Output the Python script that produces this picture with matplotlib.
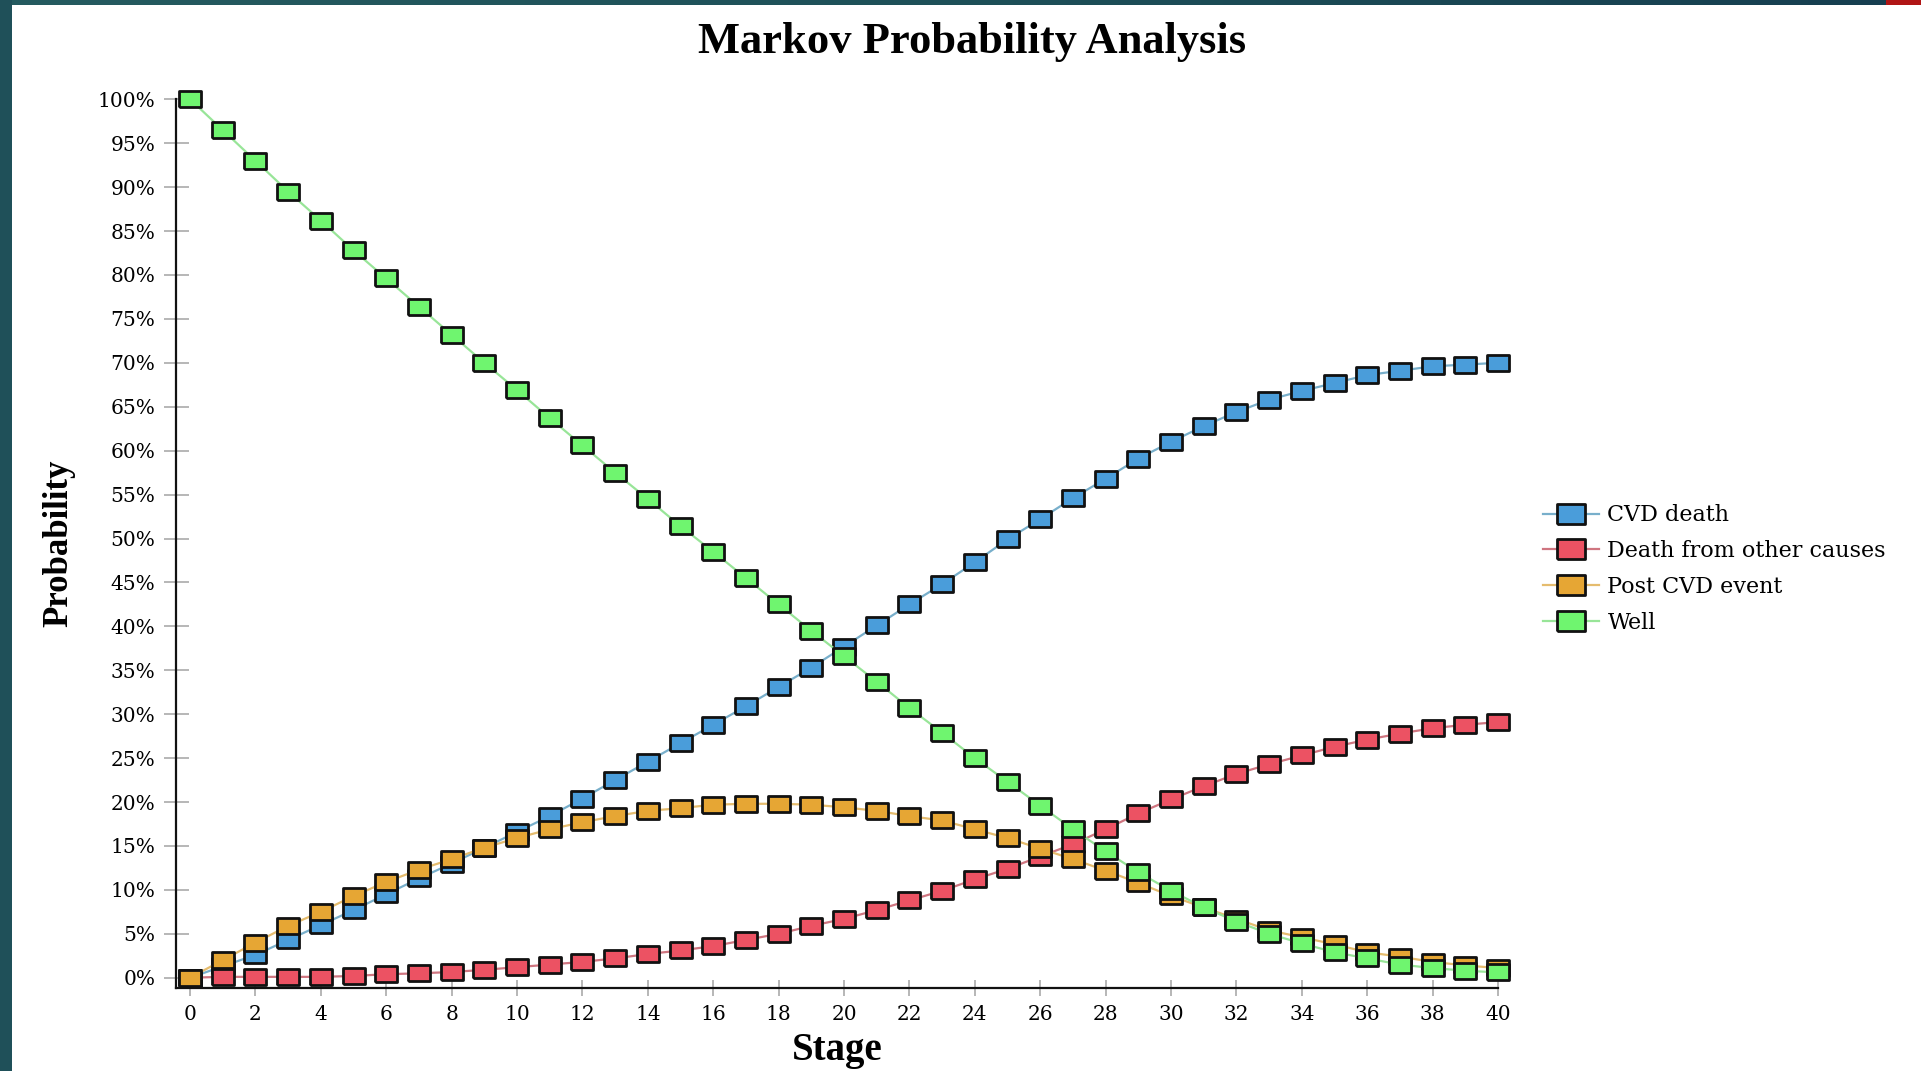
import numpy as np
import matplotlib
matplotlib.use('Agg')
import matplotlib.pyplot as plt
from matplotlib.patches import Rectangle
from matplotlib.colors import LinearSegmentedColormap
from matplotlib.ticker import PercentFormatter

plt.rcParams['font.family'] = ['Liberation Serif', 'DejaVu Serif']

# 数据（从图上读取，单位 %）
stages = list(range(41))
cvd_death = [0, 1.3, 2.6, 4.3, 6.0, 7.7, 9.5, 11.3, 13.0, 14.8, 16.6, 18.4, 20.4, 22.5, 24.6,
             26.7, 28.8, 30.9, 33.1, 35.3, 37.7, 40.1, 42.5, 44.8, 47.3, 49.9, 52.2, 54.6,
             56.8, 59.1, 61.0, 62.8, 64.4, 65.8, 66.8, 67.7, 68.6, 69.1, 69.6, 69.8, 70.0]
other_death = [0, 0.1, 0.1, 0.1, 0.1, 0.2, 0.4, 0.5, 0.65, 0.9, 1.2, 1.5, 1.8, 2.2, 2.7,
               3.1, 3.6, 4.3, 5.0, 5.9, 6.7, 7.7, 8.8, 9.9, 11.2, 12.4, 13.8, 15.2, 16.9,
               18.7, 20.3, 21.8, 23.2, 24.3, 25.3, 26.3, 27.1, 27.8, 28.4, 28.8, 29.1]
post_cvd = [0, 2.0, 4.0, 5.9, 7.5, 9.3, 10.9, 12.3, 13.5, 14.8, 15.9, 16.9, 17.7, 18.4, 19.0,
            19.3, 19.7, 19.8, 19.8, 19.7, 19.4, 19.0, 18.4, 17.9, 16.9, 15.9, 14.7, 13.5,
            12.2, 10.8, 9.3, 8.0, 6.7, 5.4, 4.6, 3.8, 2.9, 2.4, 1.8, 1.4, 1.1]
well = [100, 96.5, 93.0, 89.5, 86.2, 82.8, 79.6, 76.4, 73.2, 70.0, 66.9, 63.7, 60.6, 57.5,
        54.5, 51.4, 48.5, 45.5, 42.5, 39.5, 36.6, 33.7, 30.7, 27.9, 25.0, 22.3, 19.6, 16.9,
        14.4, 12.0, 9.9, 8.0, 6.4, 5.0, 3.9, 2.9, 2.2, 1.5, 1.1, 0.8, 0.6]

series_names = ['CVD death', 'Death from other causes', 'Post CVD event', 'Well']
fill_colors = ['#4A9DDA', '#EC5263', '#E6A634', '#6FF56F']
line_colors = ['#78AFCB', '#CF7580', '#E5BC6E', '#98E598']

# 长方形标记（宽 > 高）
rect_marker = [(-1, -0.68), (1, -0.68), (1, 0.68), (-1, 0.68), (-1, -0.68)]
wide_font = ['DejaVu Serif']

W, H = 1921, 1071
fig = plt.figure(figsize=(W / 100, H / 100), dpi=100)
fig.patch.set_facecolor('white')

# 背景装饰：左侧和顶部深色条
fig.patches.append(Rectangle((0, 0), 12 / W, 1, transform=fig.transFigure,
                             facecolor='#1F5059', edgecolor='none', zorder=0))
top_ax = fig.add_axes([0, 1 - 5 / H, 1, 5 / H])
grad = np.linspace(0, 1, 256).reshape(1, -1)
top_cmap = LinearSegmentedColormap.from_list('bar', ['#255B60', '#1E5058', '#163E50'])
top_ax.imshow(grad, aspect='auto', cmap=top_cmap, extent=[0, W, 0, 1])
top_ax.add_patch(Rectangle((1886, 0), W - 1886, 1, facecolor='#B01515', edgecolor='none'))
top_ax.set_xlim(0, W)
top_ax.set_ylim(0, 1)
top_ax.axis('off')

ax = fig.add_axes([176 / W, 1 - 988 / H, (1498 - 176) / W, (988 - 99.3) / H])

all_series = [cvd_death, other_death, post_cvd, well]
for i, vals in enumerate(all_series):
    ax.plot(stages, vals, color=line_colors[i], linewidth=1.6,
            marker=rect_marker, markersize=16.5, markerfacecolor=fill_colors[i],
            markeredgecolor='#111111', markeredgewidth=2.0,
            label=series_names[i], clip_on=False, zorder=3 + i)

ax.set_xlim(-0.43, 40)
ax.set_ylim(-1.17, 100)
ax.set_xticks(range(0, 41, 2))
ax.set_yticks(range(0, 101, 5))
ax.yaxis.set_major_formatter(PercentFormatter(decimals=0))

for side in ['top', 'right']:
    ax.spines[side].set_visible(False)
for side in ['left', 'bottom']:
    ax.spines[side].set_linewidth(1.6)
    ax.spines[side].set_color('#111111')

ax.tick_params(axis='y', direction='inout', length=18, width=1.2, color='#AAAAAA', pad=6)
ax.tick_params(axis='x', direction='inout', length=12, width=1.2, color='#AAAAAA', pad=6)
for lab in ax.get_xticklabels() + ax.get_yticklabels():
    lab.set_family(wide_font)
    lab.set_fontsize(14.5)

ax.set_xlabel('Stage', fontsize=28, fontweight='bold', labelpad=6)
ax.set_ylabel('Probability', fontsize=25, fontweight='bold', labelpad=16)

fig.text(972 / W, 1 - 53 / H, 'Markov Probability Analysis', ha='center', va='baseline',
         fontsize=32, fontweight='bold')

fig.legend(loc='center left', bbox_to_anchor=(1543 / W, 1 - 569 / H), frameon=False,
           prop={'family': wide_font, 'size': 16}, markerscale=1.25, handlelength=2.5,
           handletextpad=0.4, labelspacing=0.62, borderpad=0, borderaxespad=0)

fig.savefig('out.png', dpi=100)
